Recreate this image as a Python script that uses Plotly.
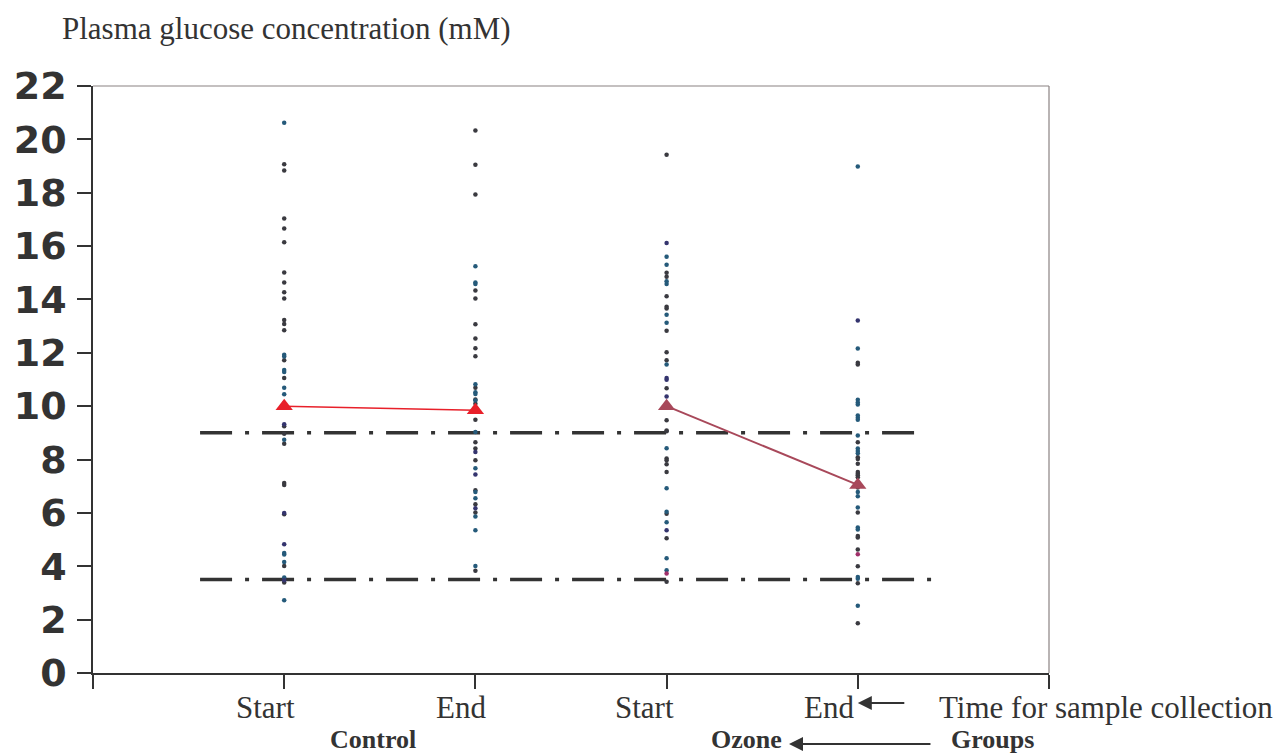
import plotly.graph_objects as go

# ---------------- data ----------------
categories = ["Start", "End", "Start", "End"]
groups = ["Control", "Ozone"]

# individual glucose values (mM), split by dot colour
ctrl_start_dark = [19.07, 18.83, 17.03, 16.66, 16.14, 15.01, 14.64, 14.27, 14.04, 13.23, 13.08, 12.85,
                   11.72, 11.06, 10.1, 9.25, 8.97, 8.59, 7.12, 7.05, 5.95, 4.01, 3.39]
ctrl_start_teal = [20.62, 11.93, 11.86, 11.36, 11.28, 10.69, 10.45, 8.74, 4.50, 4.44, 4.16, 3.58, 2.73]
ctrl_start_navy = [9.32, 6.00, 4.83, 3.48]

ctrl_end_dark = [20.33, 19.05, 17.93, 14.34, 14.04, 13.07, 12.54, 12.17, 11.87, 10.69, 10.25, 10.09,
                 9.49, 8.65, 8.41, 7.97, 6.85, 6.32, 6.02, 3.83]
ctrl_end_teal = [15.24, 14.64, 14.58, 10.82, 10.52, 10.46, 10.21, 9.03, 7.67, 6.78, 6.55, 5.87, 5.35, 4.01]
ctrl_end_navy = [8.28, 7.44, 6.17]

oz_start_dark = [19.42, 15.00, 14.85, 14.12, 13.73, 13.66, 12.83, 12.02, 11.72, 10.67, 9.47, 9.09, 9.06,
                 8.04, 7.97, 7.82, 7.53, 5.97, 5.05, 3.42]
oz_start_teal = [15.60, 15.30, 14.68, 14.58, 13.43, 13.13, 11.56, 8.42, 6.92, 6.04, 5.65, 4.30, 3.85]
oz_start_navy = [16.12, 11.06, 10.99, 10.36, 5.35]
oz_start_magenta = [3.73]

oz_end_dark = [11.63, 11.56, 8.65, 8.09, 8.02, 7.84, 7.53, 7.47, 7.41, 7.34, 6.95, 6.02, 5.13, 5.08,
               4.63, 4.00, 3.36, 1.86]
oz_end_teal = [18.98, 12.16, 10.24, 10.14, 10.06, 9.65, 9.57, 9.49, 8.90, 8.41, 8.32, 8.24, 7.10, 6.78,
               6.62, 6.20, 5.45, 5.38, 3.60, 3.53, 2.52]
oz_end_navy = [13.21]
oz_end_magenta = [4.45]

# group means
control_means = [10.0, 9.85]
ozone_means = [10.0, 7.05]

# reference limits (mM)
upper_limit = 9.0
lower_limit = 3.5

y_ticks = list(range(0, 23, 2))

# ---------------- styling ----------------
DARK = "#3a3a40"
TEAL = "#255a7a"
NAVY = "#34346e"
MAGENTA = "#a0306a"
AXIS = "#333333"
TXT = "#333333"

pos = [i + 1 for i in range(len(categories))]
label_shift = [-19, -14, -22, -29]   # px offset of each category label from its tick

columns = [
    (pos[0], [(ctrl_start_dark, DARK), (ctrl_start_teal, TEAL), (ctrl_start_navy, NAVY)]),
    (pos[1], [(ctrl_end_dark, DARK), (ctrl_end_teal, TEAL), (ctrl_end_navy, NAVY)]),
    (pos[2], [(oz_start_dark, DARK), (oz_start_teal, TEAL), (oz_start_navy, NAVY), (oz_start_magenta, MAGENTA)]),
    (pos[3], [(oz_end_dark, DARK), (oz_end_teal, TEAL), (oz_end_navy, NAVY), (oz_end_magenta, MAGENTA)]),
]

fig = go.Figure()

# reference dash-dot lines
fig.add_trace(go.Scatter(x=[0.56, 4.33], y=[upper_limit, upper_limit], mode="lines",
                         line=dict(color=AXIS, width=3.5, dash="32px,13px,4px,13px"),
                         hoverinfo="skip", showlegend=False))
fig.add_trace(go.Scatter(x=[0.56, 4.39], y=[lower_limit, lower_limit], mode="lines",
                         line=dict(color=AXIS, width=3.5, dash="32px,13px,4px,13px"),
                         hoverinfo="skip", showlegend=False))

for xp, sets in columns:
    for vals, col in sets:
        fig.add_trace(go.Scatter(x=[xp] * len(vals), y=vals, mode="markers",
                                 marker=dict(color=col, size=4.5),
                                 showlegend=False))

fig.add_trace(go.Scatter(x=pos[0:2], y=control_means, mode="lines+markers",
                         line=dict(color="#e8202a", width=1.5),
                         marker=dict(symbol="triangle-up", size=15, color="#e8202a"),
                         showlegend=False))
fig.add_trace(go.Scatter(x=pos[2:4], y=ozone_means, mode="lines+markers",
                         line=dict(color="#a8485a", width=2),
                         marker=dict(symbol="triangle-up", size=15, color="#a8485a"),
                         showlegend=False))

serif = "Liberation Serif, Times New Roman, serif"

# page has an 8px body margin, so the figure is drawn 8px smaller and offset
W, H = 1274, 748
L, T = 85, 78
PW, PH = 956, 587

fig.update_layout(
    width=W, height=H,
    margin=dict(l=L, r=W - L - PW, t=T, b=H - T - PH, autoexpand=False),
    paper_bgcolor="white", plot_bgcolor="white",
    title=dict(text="Plasma glucose concentration (mM)", x=54 / W, xanchor="left",
               y=1 - 20 / H, yanchor="middle",
               font=dict(family=serif, size=31, color=TXT)),
    xaxis=dict(range=[0, 5], tickvals=[0] + pos + [5], ticktext=[""] * (len(pos) + 2),
               showgrid=False, zeroline=False, showline=True, linecolor=AXIS, linewidth=1.5,
               ticks="outside", ticklen=14, tickwidth=1.5, tickcolor=AXIS, automargin=False),
    yaxis=dict(range=[0, 22], tickvals=y_ticks, showgrid=False, zeroline=False,
               showline=True, linecolor=AXIS, linewidth=1.5,
               ticks="outside", ticklen=14, tickwidth=1.5, tickcolor=AXIS,
               ticklabelstandoff=3, automargin=False,
               tickfont=dict(family="DejaVu Sans, Arial Black, sans-serif", size=38,
                             color=TXT, weight="bold")),
)

# top & right border
fig.add_shape(type="line", xref="paper", yref="paper", x0=0, x1=1, y0=1, y1=1,
              line=dict(color="#8a8282", width=1.2))
fig.add_shape(type="line", xref="paper", yref="paper", x0=1, x1=1, y0=0, y1=1,
              line=dict(color="#8a8282", width=1.2))

def py(pix):
    # pixel row in the reference picture -> paper y
    return (673 - pix) / PH

# category labels under the ticks
for xp, lab, sh in zip(pos, categories, label_shift):
    fig.add_annotation(text=lab, x=xp, y=py(707), xref="x", yref="paper", xshift=sh,
                       xanchor="center", yanchor="middle", showarrow=False,
                       font=dict(family=serif, size=31, color=TXT))

fig.add_annotation(text="Time for sample collection", x=4.414, y=py(707), xref="x", yref="paper",
                   xanchor="left", yanchor="middle", showarrow=False,
                   font=dict(family=serif, size=31, color=TXT))
group_x = [1.464, 3.42]
for gx, g in zip(group_x, groups):
    fig.add_annotation(text=f"<b>{g}</b>", x=gx, y=py(739), xref="x", yref="paper",
                       xanchor="center", yanchor="middle", showarrow=False,
                       font=dict(family=serif, size=26, color=TXT))
fig.add_annotation(text="<b>Groups</b>", x=4.707, y=py(739), xref="x", yref="paper",
                   xanchor="center", yanchor="middle", showarrow=False,
                   font=dict(family=serif, size=26, color=TXT))
# arrows
fig.add_annotation(text="", x=3.64, y=py(744), xref="x", yref="paper",
                   ax=143, ay=0, showarrow=True, arrowhead=2, arrowsize=1.4,
                   arrowwidth=2, arrowcolor=TXT)
fig.add_annotation(text="", x=4.0, y=py(703), xref="x", yref="paper",
                   ax=48, ay=0, showarrow=True, arrowhead=2, arrowsize=1.4,
                   arrowwidth=2, arrowcolor=TXT)

fig.write_html("out.html")
